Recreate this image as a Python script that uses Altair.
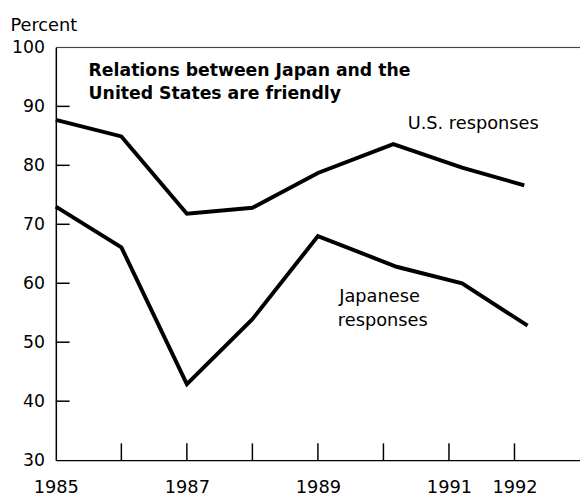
import altair as alt
import pandas as pd

# ---- data ----
us_years = [1985, 1986, 1987, 1988, 1989, 1990.15, 1991.2, 1992.15]
us_values = [87.7, 84.9, 71.8, 72.8, 78.7, 83.6, 79.6, 76.6]
jp_years = [1985, 1986, 1987, 1988, 1989, 1990.2, 1991.2, 1992.2]
jp_values = [73.0, 66.1, 42.9, 53.9, 68.0, 62.8, 60.0, 52.8]

x_label_years = [1985, 1987, 1989, 1991, 1992]
x_tick_years = [1986, 1987, 1988, 1989, 1990, 1991, 1992]
y_tick_values = [30, 40, 50, 60, 70, 80, 90, 100]
y_inner_ticks = [40, 50, 60, 70, 80, 90]

title_lines = ["Relations between Japan and the", "United States are friendly"]
title_x = [1985.5, 1985.5]
title_y = [95.2, 91.2]

label_text = ["U.S. responses", "Japanese", "responses"]
label_x = [1990.37, 1989.94, 1989.99]
label_y = [86.1, 56.8, 52.7]
label_align = ["left", "center", "center"]

W = 531.5
H = 418.5
FONT = "DejaVu Sans"

lines_df = pd.DataFrame(
    {"year": us_years + jp_years,
     "pct": us_values + jp_values,
     "series": ["U.S."] * len(us_years) + ["Japan"] * len(jp_years)}
)
xs = alt.Scale(domain=[1985, 1993], nice=False, zero=False)
ys = alt.Scale(domain=[30, 100], nice=False, zero=False)

x_axis = alt.Axis(
    values=x_label_years, format="d", tickSize=0, grid=False,
    domainColor="black", domainWidth=1.5, labelFont=FONT, labelFontSize=18,
    labelColor="black", labelPadding=19, labelFlush=False, title=None)
y_axis = alt.Axis(
    values=y_tick_values, tickSize=0, grid=False, domainColor="black",
    domainWidth=1.5, labelFont=FONT, labelFontSize=17.5, labelColor="black",
    labelPadding=11.5, title="Percent", titleAngle=0, titleAlign="left",
    titleBaseline="alphabetic", titleX=-46.5, titleY=-17, titleFont=FONT,
    titleFontSize=18, titleFontWeight="normal", titleColor="black")


def X(field="year"):
    return alt.X(f"{field}:Q", scale=xs, axis=x_axis)


def Y(field="pct"):
    return alt.Y(f"{field}:Q", scale=ys, axis=y_axis)


lines = alt.Chart(lines_df).mark_line(
    color="black", strokeWidth=4, strokeJoin="miter", strokeCap="butt"
).encode(x=X(), y=Y(), detail="series:N")

top_rule = alt.Chart(pd.DataFrame({"pct": [y_tick_values[-1]]})).mark_rule(
    color="#333", strokeWidth=1
).encode(y=Y(), x=alt.value(0), x2=alt.value(W))

ytick_rules = alt.Chart(pd.DataFrame({"pct": y_inner_ticks})).mark_rule(
    color="black", strokeWidth=1.5
).encode(y=Y(), x=alt.value(0), x2=alt.value(14))

xtick_rules = alt.Chart(pd.DataFrame({"year": x_tick_years})).mark_rule(
    color="black", strokeWidth=1.5
).encode(x=X(), y=alt.value(H), y2=alt.value(H - 17))

title_df = pd.DataFrame({"year": title_x, "pct": title_y, "text": title_lines})
title_txt = alt.Chart(title_df).mark_text(
    align="left", baseline="alphabetic", font=FONT, fontSize=17.5,
    fontWeight="bold", color="black"
).encode(x=X(), y=Y(), text="text:N")

lab_df = pd.DataFrame({"year": label_x, "pct": label_y, "text": label_text,
                       "align": label_align})
lab_left = alt.Chart(lab_df[lab_df["align"] == "left"]).mark_text(
    align="left", baseline="alphabetic", font=FONT, fontSize=18, color="black"
).encode(x=X(), y=Y(), text="text:N")
lab_center = alt.Chart(lab_df[lab_df["align"] == "center"]).mark_text(
    align="center", baseline="alphabetic", font=FONT, fontSize=18, color="black"
).encode(x=X(), y=Y(), text="text:N")

chart = alt.layer(
    lines, top_rule, ytick_rules, xtick_rules, title_txt, lab_left, lab_center
).properties(
    width=W, height=H,
    autosize=alt.AutoSizeParams(type="none"),
    padding={"left": 48.5, "top": 36.5, "right": 0, "bottom": 40},
).configure_view(stroke=None).configure(background="white")

chart.save("out.html", embed_options={"renderer": "svg", "actions": False})
